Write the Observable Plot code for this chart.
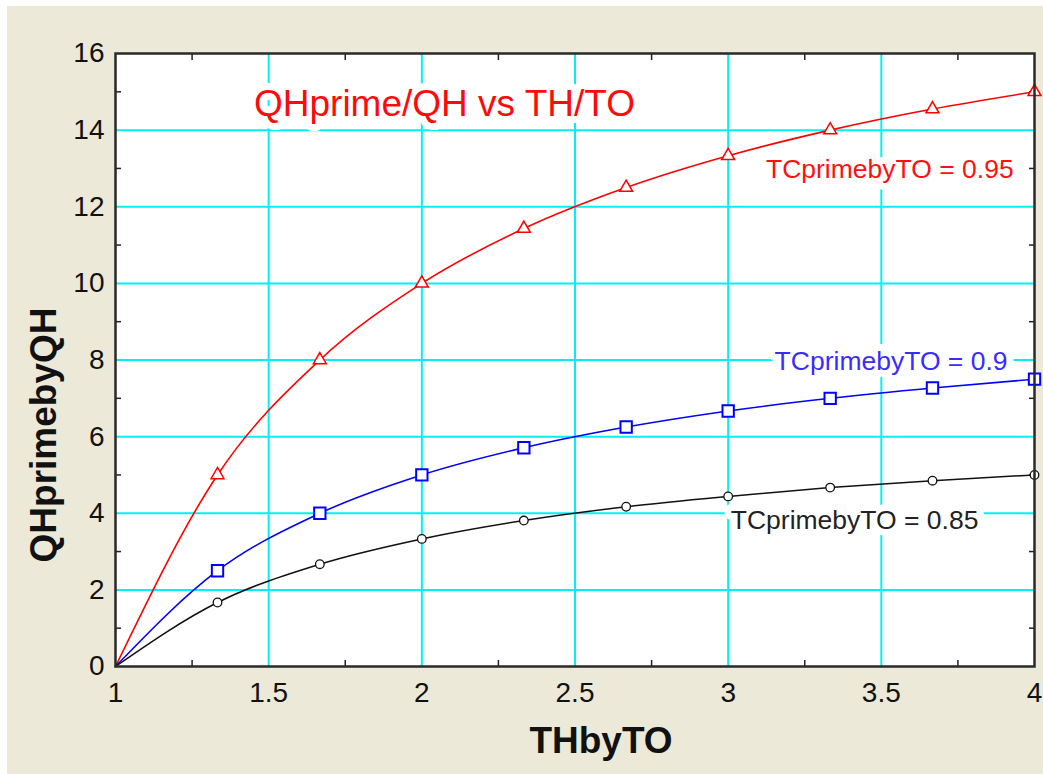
<!DOCTYPE html>
<html>
<head>
<meta charset="utf-8">
<script src="https://cdn.jsdelivr.net/npm/d3@7"></script>
<script src="https://cdn.jsdelivr.net/npm/@observablehq/plot@0.6"></script>
<style>
  html, body { margin: 0; padding: 0; background: #ffffff; }
  #wrap { position: relative; width: 1043px; height: 774px; overflow: hidden; }
  #panel { position: absolute; left: 7px; top: 6px; width: 1036px; height: 768px; background: #ece9d8; }
  #chart { position: absolute; left: 0; top: 0; }
</style>
</head>
<body>
<div id="wrap"><div id="panel"></div><div id="chart"></div></div>
<script>
// ---- data ----
const thByTO = [1, 1.333, 1.667, 2, 2.333, 2.667, 3, 3.333, 3.667, 4];
const series095 = [0, 5.0, 8.0, 10.0, 11.43, 12.5, 13.33, 14.0, 14.55, 15.0];
const series090 = [0, 2.5, 4.0, 5.0, 5.71, 6.25, 6.67, 7.0, 7.27, 7.5];
const series085 = [0, 1.67, 2.67, 3.33, 3.81, 4.17, 4.44, 4.67, 4.85, 5.0];
const seriesNames = ["TCprimebyTO = 0.95", "TCprimebyTO = 0.9", "TCprimebyTO = 0.85"];
const xTickValues = [1, 1.5, 2, 2.5, 3, 3.5, 4];
const xTickLabels = ["1", "1.5", "2", "2.5", "3", "3.5", "4"];
const yTickValues = [0, 2, 4, 6, 8, 10, 12, 14, 16];
const xMinor = [1.25, 1.75, 2.25, 2.75, 3.25, 3.75];
const yMinor = [1, 3, 5, 7, 9, 11, 13, 15];
const titleText = "QHprime/QH vs TH/TO";
const xLabel = "THbyTO";
const yLabel = "QHprimebyQH";

const toRows = (vals) => thByTO.map((x, i) => ({x, y: vals[i]}));
const r095 = toRows(series095), r090 = toRows(series090), r085 = toRows(series085);

const RED = "#ff0000", BLUE = "#0000ff", BLACK = "#111111";
const gridX = xTickValues.slice(1, -1);
const gridY = yTickValues.slice(1, -1);
const halo = {stroke: "white", strokeWidth: 14, strokeLinejoin: "round", paintOrder: "stroke"};

const chart = Plot.plot({
  width: 1043,
  height: 774,
  marginLeft: 115,
  marginRight: 9,
  marginTop: 53,
  marginBottom: 108,
  x: {domain: [1, 4]},
  y: {domain: [0, 16]},
  style: {fontFamily: "'Liberation Sans', Arial, sans-serif", background: "transparent", overflow: "visible", color: "#111"},
  marks: [
    Plot.frame({fill: "white", stroke: null}),
    Plot.ruleX(gridX, {stroke: "#00f0f8", strokeWidth: 2}),
    Plot.ruleY(gridY, {stroke: "#00f0f8", strokeWidth: 2}),
    // minor ticks inside the frame
    Plot.axisX({ticks: xMinor, anchor: "bottom", tickSize: -6, text: null, label: null, stroke: "#222", strokeWidth: 1.5}),
    Plot.axisX({ticks: xMinor, anchor: "top", tickSize: -6, text: null, label: null, stroke: "#222", strokeWidth: 1.5}),
    Plot.axisY({ticks: yMinor, anchor: "left", tickSize: -6, text: null, label: null, stroke: "#222", strokeWidth: 1.5}),
    Plot.axisY({ticks: yMinor, anchor: "right", tickSize: -6, text: null, label: null, stroke: "#222", strokeWidth: 1.5}),
    // tick labels
    Plot.axisX({ticks: xTickValues, anchor: "bottom", tickSize: 0, tickPadding: 16, fontSize: 28, label: null,
      tickFormat: (d) => xTickLabels[xTickValues.indexOf(d)], fill: "#111"}),
    Plot.axisY({ticks: yTickValues, anchor: "left", tickSize: 0, tickPadding: 11, fontSize: 28, label: null,
      tickFormat: (d) => String(d), fill: "#111"}),
    // title and series labels (white box behind, over the grid)
    Plot.text([titleText], {text: (d) => d, x: () => 2.074, y: () => 14.36, textAnchor: "middle", lineAnchor: "bottom",
      fontSize: 37, fill: "#ff0a0a", ...halo}),
    Plot.text([seriesNames[0]], {text: (d) => d, x: () => 3.932, y: () => 12.74, textAnchor: "end", lineAnchor: "bottom",
      fontSize: 26.5, fill: "#ff1010", ...halo}),
    Plot.text([seriesNames[1]], {text: (d) => d, x: () => 3.912, y: () => 7.75, textAnchor: "end", lineAnchor: "bottom",
      fontSize: 26.5, fill: "#3a2cff", ...halo}),
    Plot.text([seriesNames[2]], {text: (d) => d, x: () => 3.817, y: () => 3.58, textAnchor: "end", lineAnchor: "bottom",
      fontSize: 26.5, fill: "#222", ...halo}),
    // curves
    Plot.line(r095, {x: "x", y: "y", stroke: RED, strokeWidth: 1.6, curve: "monotone-x"}),
    Plot.line(r090, {x: "x", y: "y", stroke: BLUE, strokeWidth: 1.6, curve: "monotone-x"}),
    Plot.line(r085, {x: "x", y: "y", stroke: BLACK, strokeWidth: 1.5, curve: "monotone-x"}),
    Plot.dot(r095.slice(1), {x: "x", y: "y", symbol: "triangle", r: 4.8, stroke: RED, fill: "white", strokeWidth: 1.5}),
    Plot.dot(r090.slice(1), {x: "x", y: "y", symbol: "square", r: 6.4, stroke: BLUE, fill: "white", strokeWidth: 2}),
    Plot.dot(r085.slice(1), {x: "x", y: "y", symbol: "circle", r: 4.3, stroke: BLACK, fill: "white", strokeWidth: 1.3}),
    // axis titles
    Plot.text([xLabel], {text: (d) => d, frameAnchor: "bottom", dy: 86, dx: 26, textAnchor: "middle", lineAnchor: "bottom",
      fontSize: 37, fontWeight: "bold", fill: "#111"}),
    Plot.text([yLabel], {text: (d) => d, frameAnchor: "left", dx: -60, dy: 75, rotate: -90, textAnchor: "middle", lineAnchor: "bottom",
      fontSize: 37, fontWeight: "bold", fill: "#111"}),
    Plot.frame({stroke: "#2a2a2a", strokeWidth: 2.5})
  ]
});
document.getElementById("chart").appendChild(chart);
</script>
</body>
</html>
